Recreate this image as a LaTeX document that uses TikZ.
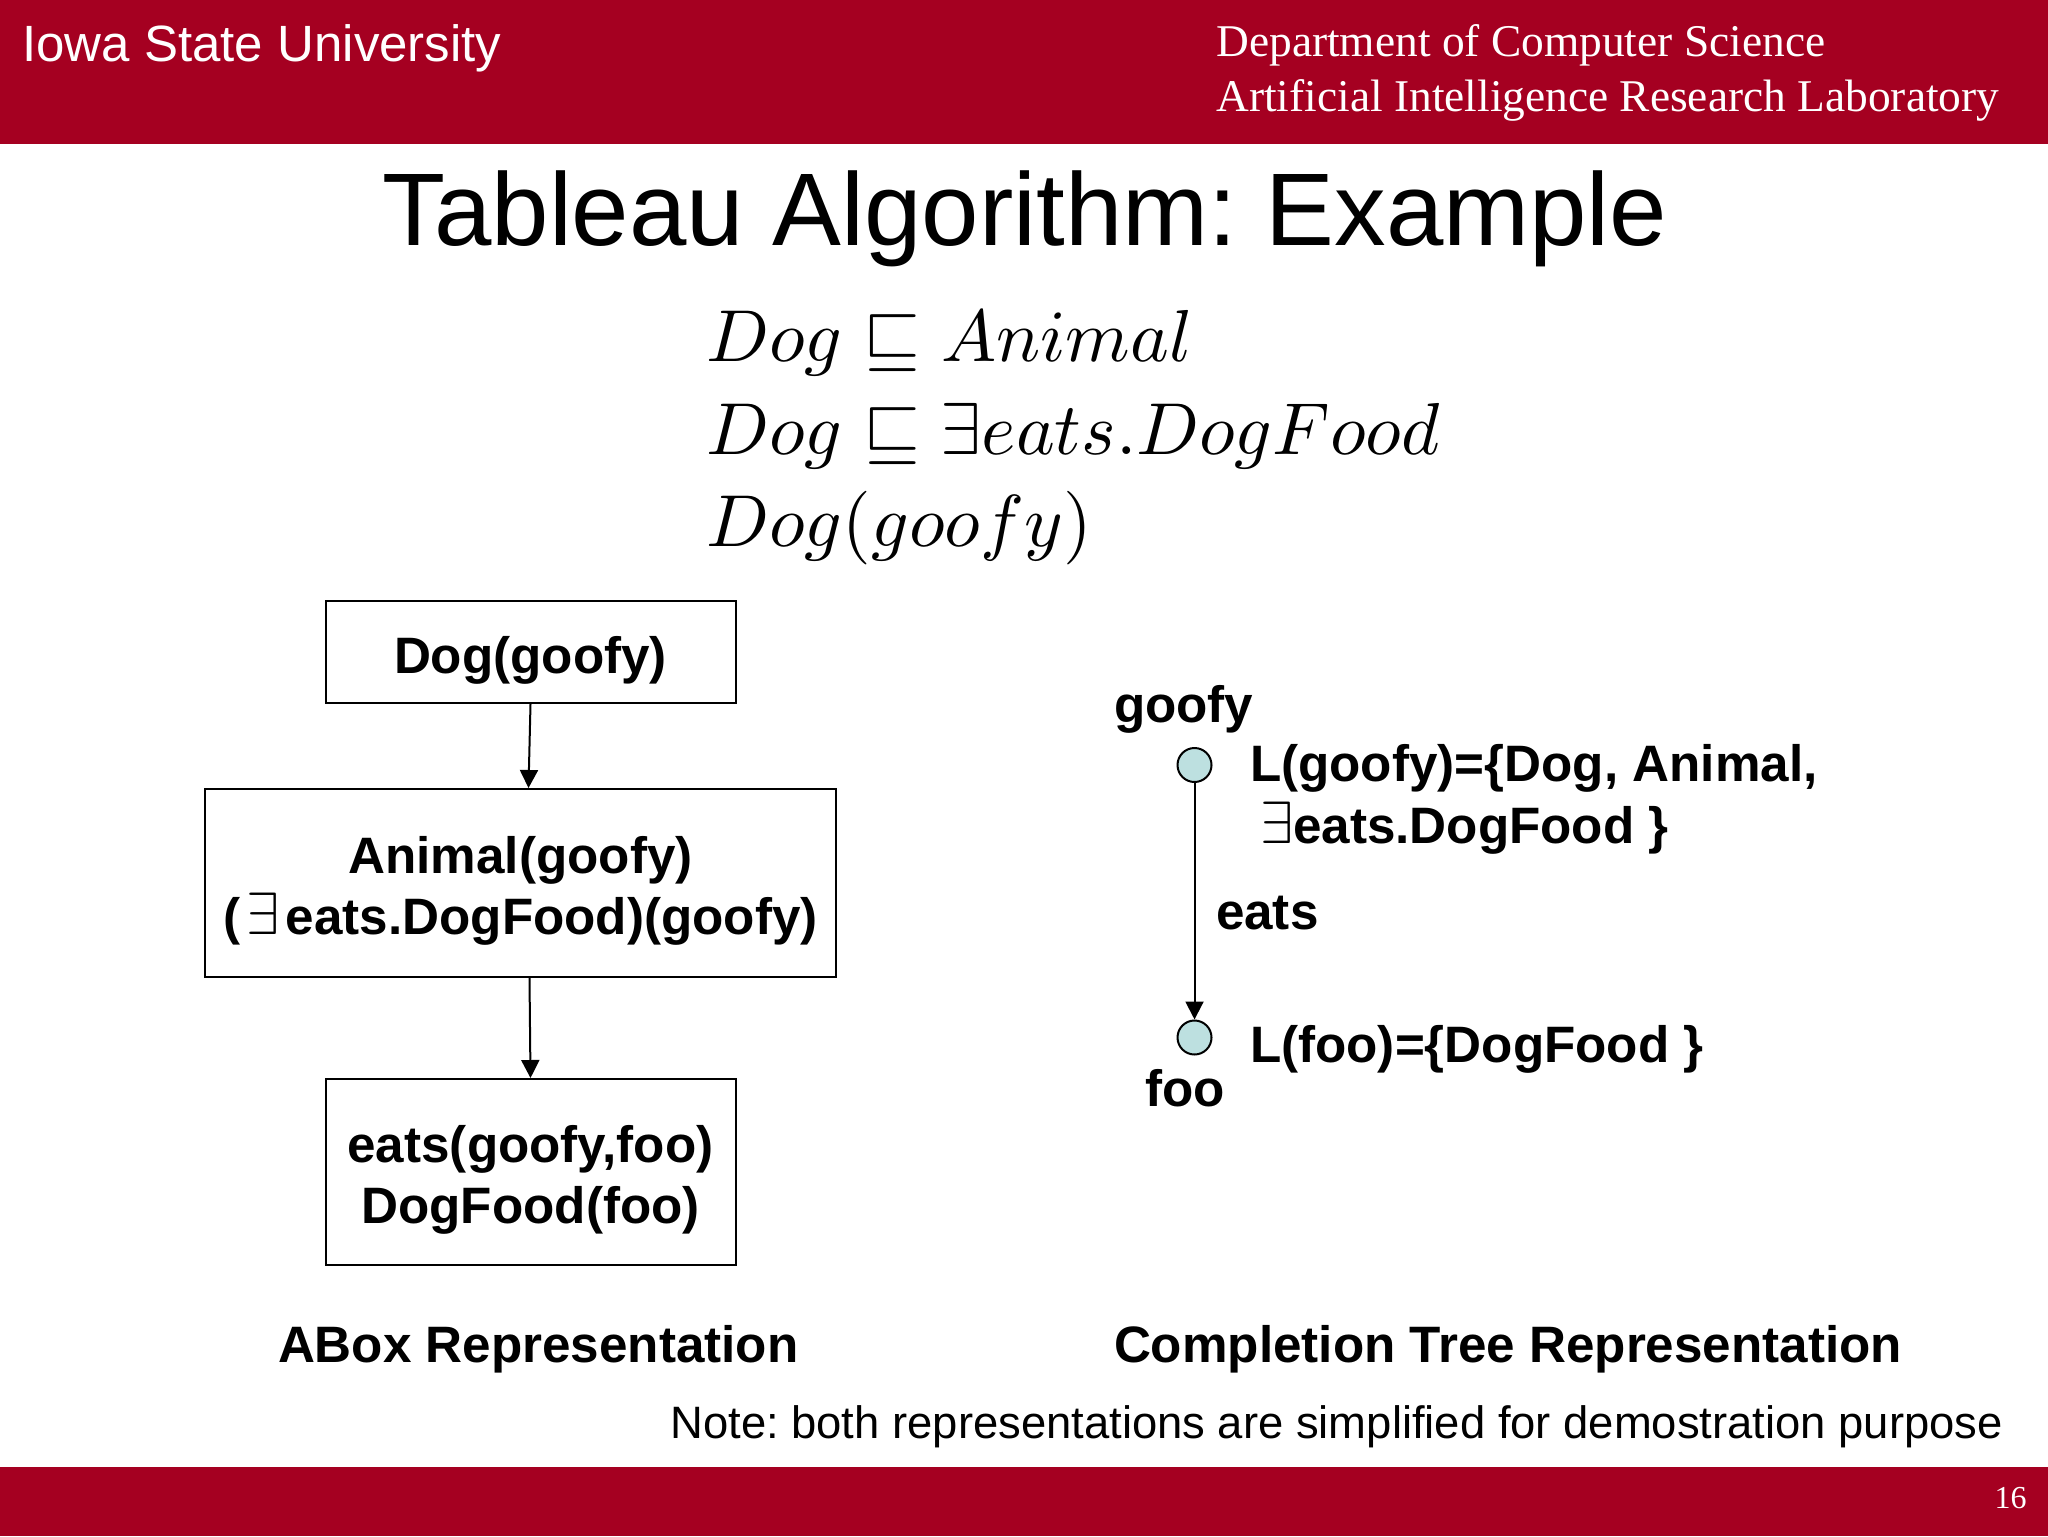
\documentclass[tikz,border=0pt]{standalone}
\usepackage{fontspec}
\setmainfont{Liberation Sans}
\newfontfamily\timesf{Liberation Serif}
\usetikzlibrary{arrows.meta}
\definecolor{isured}{HTML}{A50021}
\definecolor{nodeblue}{HTML}{BDE0E0}
\newcommand{\ex}{\scalebox{1.2}{$\exists$}}
\newcommand{\lowstrut}{\rule{0pt}{26.5pt}}
\frenchspacing
\tikzset{
  x=0.5pt,y=-0.5pt,
  lbl/.style={anchor=base west,inner sep=0pt,outer sep=0pt,font=\fontsize{25.6}{30.5}\selectfont\bfseries},
  headL/.style={anchor=base west,inner sep=0pt,text=white,font=\fontsize{25.5}{28}\selectfont},
  headR/.style={anchor=base west,inner sep=0pt,text=white,font=\timesf\fontsize{22.7}{28}\selectfont},
  mathline/.style={anchor=base west,inner sep=0pt,scale=3.68},
  boxn/.style={draw=black,line width=1pt,align=center,inner sep=0pt,font=\fontsize{25.6}{30.5}\selectfont\bfseries},
  circn/.style={circle,draw=black,line width=1pt,fill=nodeblue,minimum size=17pt,inner sep=0pt},
  arr/.style={-{Triangle[length=9pt,width=9pt]},line width=1pt,black}
}
\begin{document}
\begin{tikzpicture}
\useasboundingbox (0,0) rectangle (2048,1536);
\fill[white] (0,0) rectangle (2048,1536);
\fill[isured] (0,0) rectangle (2048,144);
\fill[isured] (0,1467) rectangle (2048,1536);
\node[headL] (univ) at (22,62) {Iowa State University};
\node[headR] (dept) at (1216,57) {Department of Computer Science};
\node[headR] (lab) at (1216,112) {Artificial Intelligence Research Laboratory};
\node[anchor=base,inner sep=0pt,font=\fontsize{51.6}{60}\selectfont] (title) at (1025,245) {Tableau Algorithm: Example};
\node[mathline] (m1) at (705,361) {$Dog \sqsubseteq Animal$};
\node[mathline] (m2) at (705,454) {$Dog \sqsubseteq \exists eats.DogFood$};
\node[mathline] (m3) at (705,546) {$Dog(goofy)$};
\node[boxn,minimum width=205pt,minimum height=51pt] (b1) at (530.5,652) {\lowstrut Dog(goofy)};
\node[boxn,minimum width=315.5pt,minimum height=94pt] (b2) at (520.5,883) {\lowstrut Animal(goofy)\\(\hspace{0.12em}\ex\hspace{0.12em}eats.DogFood)(goofy)};
\node[boxn,minimum width=205pt,minimum height=93pt] (b3) at (530.5,1172) {\lowstrut eats(goofy,foo)\\DogFood(foo)};
\draw[arr] (b1.south) -- ([xshift=4pt]b2.north);
\draw[arr] ([xshift=4.5pt]b2.south) -- (b3.north);
\node[circn] (goofy) at (1194.5,765) {};
\node[circn] (foo) at (1194.5,1037.5) {};
\draw[arr] (goofy) -- (foo);
\node[lbl] (goofyl) at (1114,722) {goofy};
\node[lbl] (lg) at (1250,781) {L(goofy)=\{Dog, Animal,};
\node[lbl] (lg2) at (1260,843) {\ex eats.DogFood \}};
\node[lbl] (eats) at (1216,929) {eats};
\node[lbl] (lf) at (1250,1062) {L(foo)=\{DogFood \}};
\node[lbl] (fool) at (1145,1106) {foo};
\node[lbl] (abox) at (278,1362) {ABox Representation};
\node[lbl] (ctree) at (1114,1362) {Completion Tree Representation};
\node[anchor=base west,inner sep=0pt,font=\fontsize{22.7}{28}\selectfont] (note) at (670,1438) {Note: both representations are simplified for demostration purpose};
\node[anchor=base east,inner sep=0pt,text=white,font=\timesf\fontsize{16}{18}\selectfont] (pg) at (2027,1508) {16};
\end{tikzpicture}
\end{document}
